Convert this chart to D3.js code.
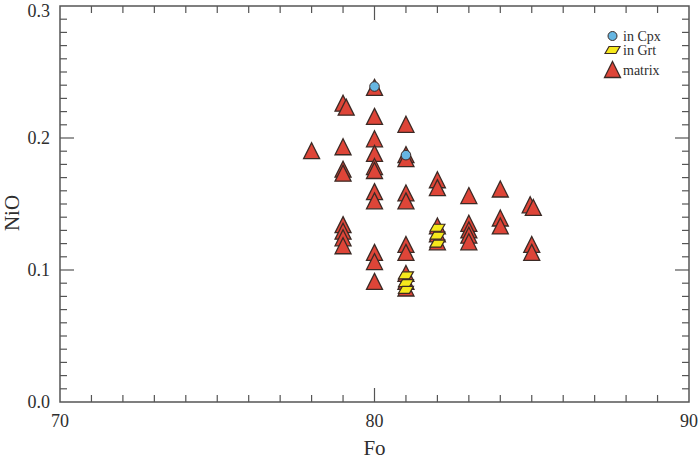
<!DOCTYPE html>
<html><head><meta charset="utf-8">
<script src="https://cdn.jsdelivr.net/npm/d3@7"></script>
<style>body{margin:0;background:#fff}svg{display:block}text{font-family:"Liberation Serif","Times New Roman",serif;fill:#2e2e2e}</style>
</head><body><svg id="c" width="700" height="459"></svg>
<script>
// Data
const matrixFo  = [78, 79,79.1,79,79,79,79,79,79,79, 80,80,80,80,80,80,80,80,80,80,80, 81,81,81,81,81,81,81,81,81,81, 82,82,82,82,82, 83,83,83,83,83, 84,84,84, 84.95,85.05,85,85];
const matrixNiO = [0.190, 0.226,0.223,0.193,0.176,0.173,0.134,0.129,0.124,0.118, 0.238,0.216,0.199,0.188,0.178,0.175,0.159,0.152,0.113,0.106,0.091, 0.210,0.187,0.184,0.158,0.152,0.119,0.113,0.097,0.091,0.086, 0.168,0.162,0.133,0.127,0.121, 0.156,0.135,0.130,0.126,0.121, 0.161,0.139,0.133, 0.149,0.147,0.119,0.113];
const cpxFo  = [80, 81];
const cpxNiO = [0.239, 0.187];
const grtFo  = [81, 81, 81, 82, 82, 82];
const grtNiO = [0.096, 0.090, 0.085, 0.132, 0.126, 0.120];
const xTicks = [70, 80, 90];
const yTicks = [0.0, 0.1, 0.2, 0.3];
const legendLabels = ["in Cpx", "in Grt", "matrix"];

const svg = d3.select("#c");
const L = 60, R = 689, T = 6, B = 402;
const x = d3.scaleLinear().domain([70, 90]).range([L, R]);
const y = d3.scaleLinear().domain([0, 0.3]).range([B, T]);
const axisColor = "#555";

// frame
svg.append("rect").attr("x", L).attr("y", T).attr("width", R - L).attr("height", B - T)
  .attr("fill", "none").attr("stroke", axisColor).attr("stroke-width", 1.5);

// ticks (inward, all four sides)
const xMinor = d3.range(71, 90, 1);
const yMinor = d3.range(1, 30).map(d => d / 100);
const g = svg.append("g").attr("stroke", axisColor).attr("stroke-width", 1.2);
xMinor.forEach(v => {
  const len = (v % 10 === 0) ? 14 : 7;
  g.append("line").attr("x1", x(v)).attr("x2", x(v)).attr("y1", B).attr("y2", B - len);
  g.append("line").attr("x1", x(v)).attr("x2", x(v)).attr("y1", T).attr("y2", T + len);
});
yMinor.forEach(v => {
  const len = (Math.round(v * 100) % 10 === 0) ? 14 : 7;
  g.append("line").attr("y1", y(v)).attr("y2", y(v)).attr("x1", L).attr("x2", L + len);
  g.append("line").attr("y1", y(v)).attr("y2", y(v)).attr("x1", R).attr("x2", R - len);
});

// tick labels
svg.selectAll(".xl").data(xTicks).enter().append("text")
  .attr("x", d => x(d)).attr("y", 427).attr("text-anchor", "middle")
  .attr("font-size", 18).text(d => d);
svg.selectAll(".yl").data(yTicks).enter().append("text")
  .attr("x", 50).attr("y", d => Math.max(y(d) + 6, 17)).attr("text-anchor", "end")
  .attr("font-size", 18).text(d => d.toFixed(1));

// axis titles
svg.append("text").attr("x", x(80)).attr("y", 455).attr("text-anchor", "middle")
  .attr("font-size", 21).text("Fo");
svg.append("text").attr("transform", `translate(19,${y(0.15) + 9}) rotate(-90)`)
  .attr("text-anchor", "middle").attr("font-size", 21).text("NiO");

// symbols
const triPath = "M0,-8.5L8,7.5L-8,7.5Z";
const grtPath = "M-7.5,3.5L-3.5,-3.5L7.5,-3.5L3.5,3.5Z";
const red = "#de4538", stroke = "#3b2a25";

svg.append("g").selectAll("path").data(matrixFo.map((f, i) => [f, matrixNiO[i]])).enter()
  .append("path").attr("d", triPath)
  .attr("transform", d => `translate(${x(d[0])},${y(d[1])})`)
  .attr("fill", red).attr("stroke", stroke).attr("stroke-width", 1.3).attr("stroke-linejoin", "miter");

svg.append("g").selectAll("circle").data(cpxFo.map((f, i) => [f, cpxNiO[i]])).enter()
  .append("circle").attr("cx", d => x(d[0])).attr("cy", d => y(d[1])).attr("r", 4.8)
  .attr("fill", "#66b6e2").attr("stroke", stroke).attr("stroke-width", 1);

svg.append("g").selectAll("path").data(grtFo.map((f, i) => [f, grtNiO[i]])).enter()
  .append("path").attr("d", grtPath)
  .attr("transform", d => `translate(${x(d[0])},${y(d[1])})`)
  .attr("fill", "#f6e81c").attr("stroke", stroke).attr("stroke-width", 1.2);

// legend
const lg = svg.append("g");
lg.append("circle").attr("cx", 612.5).attr("cy", 36).attr("r", 4.5)
  .attr("fill", "#66b6e2").attr("stroke", stroke).attr("stroke-width", 1);
lg.append("path").attr("d", grtPath).attr("transform", "translate(612.5,50)")
  .attr("fill", "#f6e81c").attr("stroke", stroke).attr("stroke-width", 1.2);
lg.append("path").attr("d", triPath).attr("transform", "translate(612.5,70)")
  .attr("fill", red).attr("stroke", stroke).attr("stroke-width", 1.3);
const ly = [36, 50, 70];
legendLabels.forEach((t, i) => {
  lg.append("text").attr("x", 623).attr("y", ly[i] + 4.5).attr("font-size", 14).text(t);
});
</script></body></html>
